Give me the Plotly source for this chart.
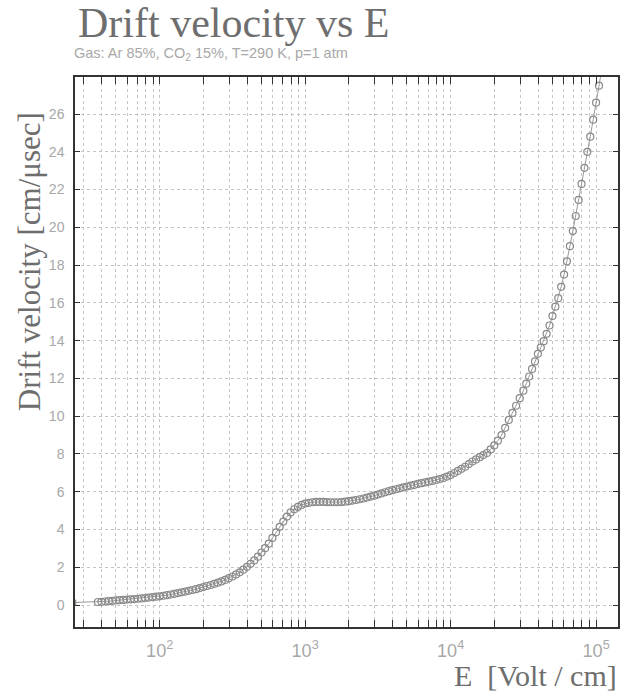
import plotly.graph_objects as go

# log10(E [V/cm]) and drift velocity [cm/usec]
log_E = [1.400,
    1.575, 1.600, 1.625, 1.650, 1.675, 1.700, 1.725, 1.750, 1.775, 1.800,
    1.825, 1.850, 1.875, 1.900, 1.925, 1.950, 1.975, 2.000, 2.025, 2.050,
    2.075, 2.100, 2.125, 2.150, 2.175, 2.200, 2.225, 2.250, 2.275, 2.300,
    2.325, 2.350, 2.375, 2.400, 2.425, 2.450, 2.475, 2.500, 2.525, 2.550,
    2.575, 2.600, 2.625, 2.650, 2.675, 2.700, 2.725, 2.750, 2.775, 2.800,
    2.825, 2.850, 2.875, 2.900, 2.925, 2.950, 2.975, 3.000, 3.025, 3.050,
    3.075, 3.100, 3.125, 3.150, 3.175, 3.200, 3.225, 3.250, 3.275, 3.300,
    3.325, 3.350, 3.375, 3.400, 3.425, 3.450, 3.475, 3.500, 3.525, 3.550,
    3.575, 3.600, 3.625, 3.650, 3.675, 3.700, 3.725, 3.750, 3.775, 3.800,
    3.825, 3.850, 3.875, 3.900, 3.925, 3.950, 3.975, 4.000, 4.025, 4.050,
    4.075, 4.100, 4.125, 4.150, 4.175, 4.200, 4.225, 4.250, 4.275, 4.300,
    4.325, 4.350, 4.375, 4.400, 4.425, 4.450, 4.475, 4.500,
    4.520, 4.540, 4.560, 4.580, 4.600, 4.620, 4.640, 4.660, 4.680, 4.700,
    4.720, 4.740, 4.760, 4.780, 4.800, 4.820, 4.840, 4.860, 4.880, 4.900,
    4.920, 4.940, 4.960, 4.980, 5.000, 5.020, 5.040]

velocity = [0.13,
    0.16, 0.17, 0.185, 0.20, 0.22, 0.24, 0.255, 0.27, 0.285, 0.30,
    0.315, 0.33, 0.35, 0.37, 0.395, 0.42, 0.44, 0.46, 0.49, 0.52,
    0.555, 0.59, 0.63, 0.67, 0.71, 0.75, 0.795, 0.84, 0.895, 0.95,
    1.005, 1.06, 1.12, 1.18, 1.25, 1.33, 1.42, 1.51, 1.62, 1.73,
    1.87, 2.02, 2.18, 2.36, 2.56, 2.78, 3.01, 3.25, 3.55, 3.85,
    4.14, 4.42, 4.68, 4.90, 5.07, 5.20, 5.30, 5.37, 5.41, 5.44,
    5.46, 5.46, 5.46, 5.45, 5.44, 5.44, 5.44, 5.45, 5.47, 5.50,
    5.53, 5.56, 5.60, 5.64, 5.69, 5.74, 5.79, 5.85, 5.91, 5.97,
    6.03, 6.08, 6.13, 6.18, 6.23, 6.27, 6.32, 6.36, 6.41, 6.45,
    6.49, 6.53, 6.57, 6.62, 6.67, 6.72, 6.80, 6.88, 6.99, 7.10,
    7.21, 7.32, 7.46, 7.60, 7.71, 7.83, 7.94, 8.05, 8.24, 8.45,
    8.70, 9.00, 9.38, 9.80, 10.17, 10.55, 10.95, 11.35,
    11.72, 12.10, 12.50, 12.90, 13.30, 13.63, 13.97, 14.36, 14.80, 15.30,
    15.80, 16.25, 16.85, 17.50, 18.20, 19.00, 19.80, 20.60, 21.45, 22.30,
    23.15, 24.00, 24.80, 25.70, 26.60, 27.50, 28.40]

E_values = [10 ** v for v in log_E]

title_text = "Drift velocity vs E"
subtitle_text = "Gas: Ar 85%, CO<sub>2</sub> 15%, T=290 K, p=1 atm"
x_title = "E&nbsp;&nbsp;[Volt / cm]"
y_title = "Drift velocity [cm/\u03bcsec]"

# plot-area geometry in pixels
L, R, T, B = 75, 4, 77, 64
W, H = 624, 691
PW, PH = W - L - R, H - T - B


def px(xp):
    return (xp - L) / PW


def py(yp):
    return (H - B - yp) / PH


SERIF = "Liberation Serif"
SANS = "Liberation Sans"
AXC = "#333333"
GRID = "#c4c4c4"
TICKC = "#a8a8a8"
TXT = "#6e6e6e"

fig = go.Figure()
fig.add_trace(go.Scatter(
    x=E_values, y=velocity, mode="lines+markers",
    line=dict(color="#9a9a9a", width=1),
    marker=dict(symbol="circle-open", size=7, color="#8a8a8a",
                line=dict(width=1.2, color="#8a8a8a")),
    showlegend=False, hoverinfo="x+y"))

fig.update_layout(
    width=W, height=H,
    margin=dict(l=L, r=R, t=T, b=B, pad=0),
    paper_bgcolor="white", plot_bgcolor="white",
    font=dict(family=SANS, color=TICKC),
    xaxis=dict(
        type="log", range=[1.4178, 5.1507],
        dtick=1, exponentformat="power",
        ticks="inside", ticklen=7, tickcolor=AXC, tickwidth=1,
        showline=True, linecolor=AXC, linewidth=1.5, mirror="allticks",
        showgrid=True, gridcolor=GRID, gridwidth=1, griddash="dot",
        tickfont=dict(family=SANS, size=14.5, color=TICKC),
        ticklabelstandoff=7,
        minor=dict(dtick="D1", ticks="inside", ticklen=7, tickcolor=AXC,
                   showgrid=True, gridcolor=GRID, gridwidth=1, griddash="dot"),
        zeroline=False,
    ),
    yaxis=dict(
        range=[-1.165, 27.96], dtick=2, tick0=0,
        ticks="inside", ticklen=5, tickcolor=AXC, tickwidth=1,
        showline=True, linecolor=AXC, linewidth=1.5, mirror="allticks",
        showgrid=True, gridcolor=GRID, gridwidth=1, griddash="dot",
        tickfont=dict(family=SANS, size=14, color=TICKC),
        ticklabelstandoff=6,
        zeroline=False,
    ),
    annotations=[
        dict(text=title_text, xref="paper", yref="paper",
             x=px(76), y=py(23), xanchor="left", yanchor="middle",
             showarrow=False, font=dict(family=SERIF, size=42, color=TXT)),
        dict(text=subtitle_text, xref="paper", yref="paper",
             x=px(72), y=py(53.5), xanchor="left", yanchor="middle",
             showarrow=False, font=dict(family=SANS, size=14.5, color=TICKC)),
        dict(text=x_title, xref="paper", yref="paper",
             x=px(621), y=py(675), xanchor="right", yanchor="middle",
             showarrow=False, font=dict(family=SERIF, size=30, color=TXT)),
        dict(text=y_title, xref="paper", yref="paper",
             x=px(29), y=py(262), xanchor="center", yanchor="middle",
             textangle=-90,
             showarrow=False, font=dict(family=SERIF, size=31, color=TXT)),
    ],
)

fig.write_html("out.html")
